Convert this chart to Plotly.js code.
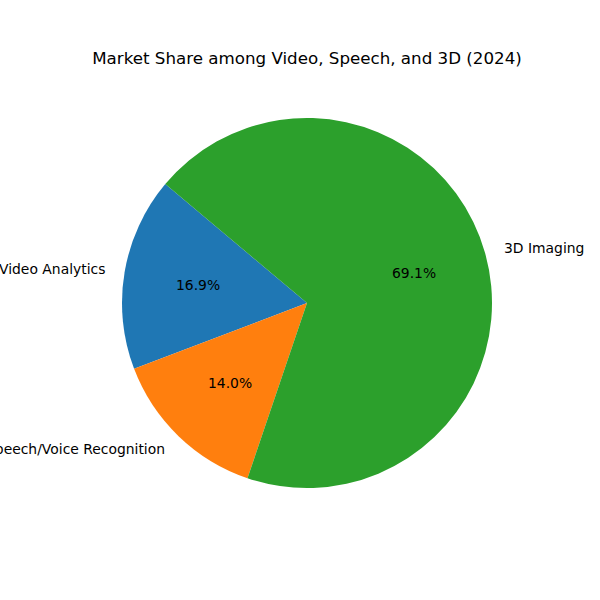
<!DOCTYPE html>
<html>
<head>
<meta charset="utf-8">
<script src="https://cdn.plot.ly/plotly-3.0.1.min.js"></script>
<style>
  html, body { margin: 0; padding: 0; background: #ffffff; }
  #chart { width: 600px; height: 600px; }
</style>
</head>
<body>
<div id="chart"></div>
<script>
// Market segments and their 2024 share (%)
const segments = ["Video Analytics", "Speech/Voice Recognition", "3D Imaging"];
const shares = [16.9, 14.0, 69.1];
const sliceColors = ["#1f77b4", "#ff7f0e", "#2ca02c"];
const chartTitle = "Market Share among Video, Speech, and 3D (2024)";

const startAngle = 140;      // degrees, counter-clockwise from 3 o'clock
const labelDistance = 1.1;   // label radius as fraction of pie radius
const pctDistance = 0.6;     // percent text radius as fraction of pie radius
const font = "DejaVu Sans, Arial, sans-serif";

const total = shares.reduce((a, b) => a + b, 0);

// Place segment names and percentages around the pie at each slice's mid-angle
const annotations = [];
let acc = startAngle;
shares.forEach((v, i) => {
  const sweep = v / total * 360;
  const mid = (acc + sweep / 2) * Math.PI / 180;
  acc += sweep;
  const cx = Math.cos(mid), cy = Math.sin(mid);
  annotations.push({
    xref: "paper", yref: "paper",
    x: 0.5 + 0.5 * labelDistance * cx,
    y: 0.5 + 0.5 * labelDistance * cy,
    text: segments[i],
    showarrow: false,
    borderpad: 0,
    xanchor: cx < 0 ? "right" : "left",
    yanchor: "middle",
    font: { family: font, size: 13.9, color: "#000000" }
  });
  annotations.push({
    xref: "paper", yref: "paper",
    x: 0.5 + 0.5 * pctDistance * cx,
    y: 0.5 + 0.5 * pctDistance * cy,
    text: (v / total * 100).toFixed(1) + "%",
    showarrow: false,
    borderpad: 0,
    xanchor: "center",
    yanchor: "middle",
    font: { family: font, size: 13.9, color: "#000000" }
  });
});

// With counter-clockwise direction, Plotly's rotation marks where the first
// slice ends, measured clockwise from 12 o'clock.
const firstSweep = shares[0] / total * 360;

const trace = {
  type: "pie",
  labels: segments,
  values: shares,
  sort: false,
  direction: "counterclockwise",
  rotation: -(startAngle + firstSweep - 90),
  marker: { colors: sliceColors, line: { width: 0 } },
  textinfo: "none",
  hoverinfo: "label+percent",
  showlegend: false
};

const layout = {
  width: 600,
  height: 600,
  margin: { l: 122, r: 108, t: 118, b: 112 },
  paper_bgcolor: "#ffffff",
  plot_bgcolor: "#ffffff",
  title: {
    text: chartTitle,
    x: 0.5, xref: "paper", xanchor: "center",
    y: 1 - 58 / 600, yref: "container", yanchor: "middle",
    font: { family: font, size: 16.7, color: "#000000" }
  },
  annotations: annotations,
  showlegend: false
};

Plotly.newPlot("chart", [trace], layout, { displayModeBar: false, staticPlot: true });
</script>
</body>
</html>
